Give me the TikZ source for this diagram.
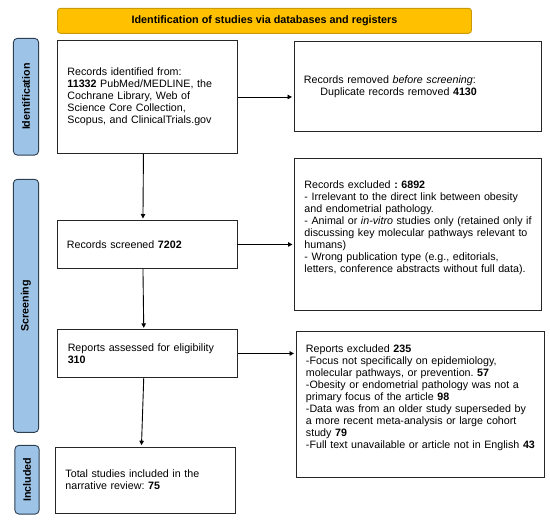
\documentclass[tikz,border=0pt]{standalone}
\usepackage{fontspec}
\setmainfont{Liberation Sans}
\usetikzlibrary{arrows.meta}
\definecolor{headfill}{HTML}{FFC000}
\definecolor{headline}{HTML}{C99A06}
\definecolor{barfill}{HTML}{9DC3E6}
\definecolor{barline}{HTML}{2E3F52}
\frenchspacing

\begin{document}
\begin{tikzpicture}[x=1pt, y=-1pt,
		every node/.style={font=\fontsize{10.7}{12}\selectfont},
		box/.style={draw=black!85, line width=0.9pt, anchor=north west, align=left, inner xsep=10pt, inner ysep=0pt},
		bar/.style={draw=barline, fill=barfill, line width=0.9pt, rounded corners=4pt, rotate=90, inner sep=0pt, font=\fontsize{10.7}{12}\selectfont\bfseries},
		arr/.style={-{Triangle[length=4.5pt,width=4.5pt]}, line width=0.9pt, shorten >=1.5pt}]
	\useasboundingbox (0,0) rectangle (550,523);
	\node[draw=headline, fill=headfill, line width=0.9pt, rounded corners=3pt, minimum width=414pt, minimum height=25pt, inner sep=0pt, font=\fontsize{10.8}{12}\selectfont\bfseries] (head) at (264.5,20.8) {Identification of studies via databases and registers};
	\node[bar, minimum width=116.7pt, minimum height=25.3pt] (idbar) at (26,96.7) {Identification};
	\node[bar, minimum width=253pt, minimum height=25.3pt] (scbar) at (26,305.8) {Screening};
	\node[bar, minimum width=68.7pt, minimum height=24.3pt] (incbar) at (27,479.7) {Included};
	\node[box, minimum width=180pt, minimum height=113pt, text width=160pt] (ident) at (57,40) {Records identified from:\\ \textbf{11332} PubMed/MEDLINE, the\\ Cochrane Library, Web of\\ Science Core Collection,\\ \mbox{Scopus, and ClinicalTrials.gov}};
	\node[box, minimum width=247pt, minimum height=90.3pt, text width=227pt] (removed) at (293.5,40.7) {Records removed \textit{before screening}:\\ \hspace*{16.5pt}Duplicate records removed \textbf{4130}};
	\node[box, minimum width=180pt, minimum height=48pt, text width=160pt] (screened) at (56.5,220) {Records screened \textbf{7202}};
	\node[box, minimum width=247pt, minimum height=152pt, text width=227pt] (excluded) at (294,157.5) {Records excluded \textbf{: 6892}\\ \mbox{- Irrelevant to the direct link between obesity}\\ and endometrial pathology.\\ \mbox{- Animal or \textit{in-vitro} studies only (retained only if}\\ \mbox{discussing key molecular pathways relevant to}\\ humans)\\ - Wrong publication type (e.g., editorials,\\ \mbox{letters, conference abstracts without full data).}\\ \strut};
	\node[box, minimum width=180pt, minimum height=47.4pt, text width=160pt] (assessed) at (57.3,329.3) {Reports assessed for eligibility\\ \textbf{310}};
	\node[box, minimum width=248pt, minimum height=146pt, text width=228pt] (repexcl) at (295.5,330.7) {Reports excluded \textbf{235}\\ -Focus not specifically on epidemiology,\\ \mbox{molecular pathways, or prevention. \textbf{57}}\\ \mbox{-Obesity or endometrial pathology was not a}\\ primary focus of the article \textbf{98}\\ \mbox{-Data was from an older study superseded by}\\ \mbox{a more recent meta-analysis or large cohort}\\ study \textbf{79}\\ \mbox{-Full text unavailable or article not in English \textbf{43}}\\ \strut};
	\node[box, minimum width=180pt, minimum height=66pt, text width=160pt] (total) at (55,446.7) {Total studies included in the\\ narrative review: \textbf{75}};
	\draw[arr] (ident.east) -- (removed.west |- ident.east);
	\draw[arr] (screened.east) -- (excluded.west |- screened.east);
	\draw[arr] (assessed.east) -- (repexcl.west |- assessed.east);
	\draw[arr] ([xshift=-4pt]ident.south) -- ([xshift=-4pt]screened.north);
	\draw[arr] ([xshift=-4pt]screened.south) -- ([xshift=-4pt]assessed.north);
	\draw[arr] ([xshift=-4pt]assessed.south) -- ([xshift=-4pt]total.north);
\end{tikzpicture}
\end{document}
